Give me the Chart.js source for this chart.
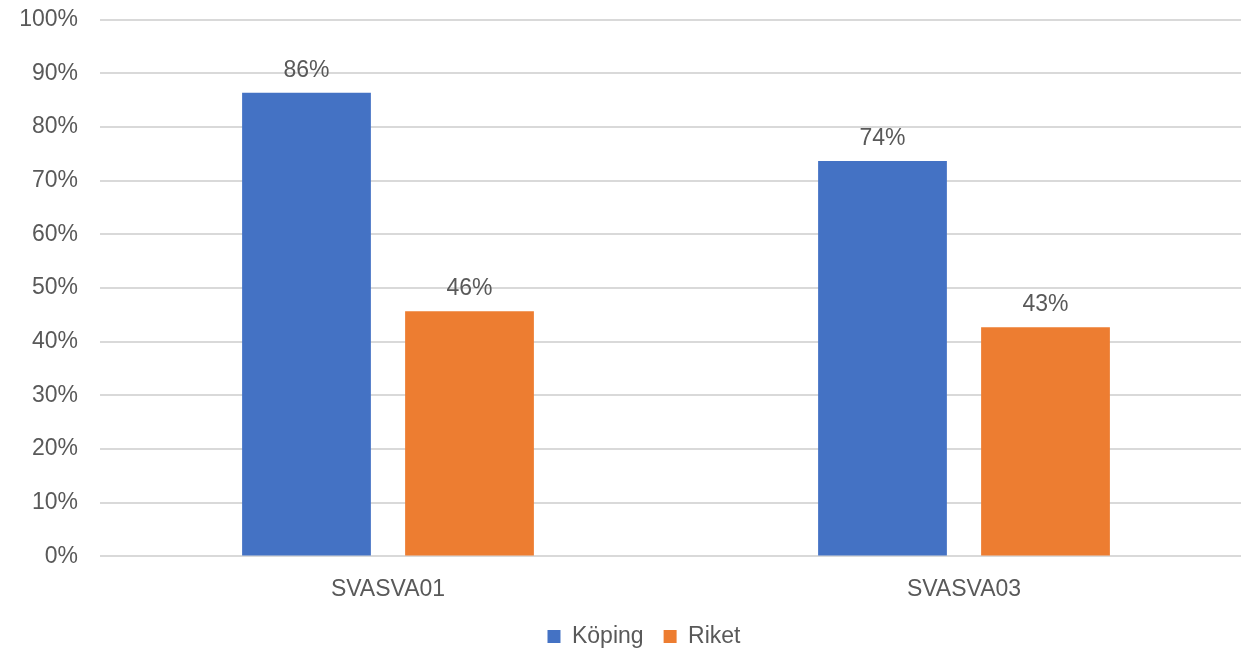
<!DOCTYPE html>
<html>
<head>
<meta charset="utf-8">
<script src="https://cdn.jsdelivr.net/npm/chart.js@4/dist/chart.umd.min.js"></script>
<style>
  html, body { margin: 0; padding: 0; background: #fff; overflow: hidden; }
  #wrap { width: 1288px; height: 680px; position: relative; top: -16px; }
</style>
</head>
<body>
<div id="wrap"><canvas id="chart"></canvas></div>
<script>
// categories and series (percent)
var categories = ["SVASVA01", "SVASVA03"];
var kopingValues = [86.4, 73.7];
var riketValues = [45.7, 42.7];
var seriesNames = ["Köping", "Riket"];

var textColor = "#595959";
var fontFamily = "'Liberation Sans', Arial, sans-serif";

// draws the value labels above every bar
var barLabels = {
    id: "barLabels",
    afterDatasetsDraw: function(chart){
        var ctx = chart.ctx;
        ctx.save();
        ctx.font = "23px " + fontFamily;
        ctx.fillStyle = textColor;
        ctx.textAlign = "center";
        ctx.textBaseline = "bottom";
        chart.data.datasets.forEach(function(ds, i){
            var meta = chart.getDatasetMeta(i);
            meta.data.forEach(function(bar, j){
                ctx.fillText(Math.round(ds.data[j]) + "%", bar.x, bar.y - 11);
            });
        });
        ctx.restore();
    }
};

// nudge the legend so it centres a bit to the right, like the original
var legendShift = {
    id: "legendShift",
    afterLayout: function(chart){
        if (chart.legend) chart.legend.left += 36;
    }
};

var chart = new Chart("chart", {
    type: "bar",
    data: {
        labels: categories,
        datasets: [
            {
                label: seriesNames[0],
                data: kopingValues,
                backgroundColor: "#4472C4"
            },
            {
                label: seriesNames[1],
                data: riketValues,
                backgroundColor: "#ED7D31"
            }
        ]
    },
    options: {
        responsive: true,
        maintainAspectRatio: false,
        animation: false,
        categoryPercentage: 0.566,
        barPercentage: 0.79,
        layout: {
            padding: { top: 0, right: 36, bottom: 6, left: 0 }
        },
        plugins: {
            legend: {
                display: true,
                position: "bottom",
                labels: {
                    boxWidth: 13,
                    boxHeight: 13,
                    padding: 20,
                    color: textColor,
                    font: { size: 23, family: fontFamily }
                }
            },
            tooltip: { enabled: false },
            title: { display: false }
        },
        scales: {
            x: {
                afterFit: function(scale){ scale.height -= 17; },
                grid: { display: false, drawTicks: false },
                border: { display: false },
                ticks: {
                    color: textColor,
                    padding: 19,
                    font: { size: 23, family: fontFamily }
                }
            },
            y: {
                min: 0,
                max: 100,
                afterFit: function(scale){ scale.width = 100; },
                grid: { color: "#D9D9D9", lineWidth: 2, drawTicks: false },
                border: { display: false },
                ticks: {
                    stepSize: 10,
                    color: textColor,
                    padding: 22,
                    font: { size: 23, family: fontFamily },
                    callback: function(v){ return v + "%"; }
                }
            }
        }
    },
    plugins: [barLabels, legendShift]
});
</script>
</body>
</html>
